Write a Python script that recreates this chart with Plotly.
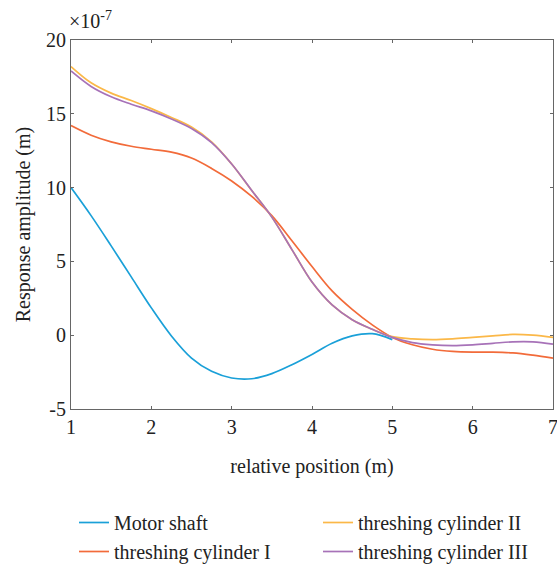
import plotly.graph_objects as go

x_motor = [1.0, 1.25, 1.5, 1.75, 2.0, 2.25, 2.5, 2.75, 3.0, 3.25, 3.5, 3.75, 4.0, 4.25, 4.5, 4.75, 5.0]
y_motor = [10.0, 8.1, 6.05, 3.95, 1.85, -0.05, -1.55, -2.45, -2.9, -2.95, -2.6, -2.0, -1.3, -0.55, -0.05, 0.1, -0.3]

x_full = [1.0, 1.25, 1.5, 1.75, 2.0, 2.25, 2.5, 2.75, 3.0, 3.25, 3.5, 3.75, 4.0, 4.25, 4.5, 4.75,
          5.0, 5.25, 5.5, 5.75, 6.0, 6.25, 6.5, 6.75, 7.0]
y_cyl1 = [14.2, 13.55, 13.1, 12.8, 12.6, 12.4, 12.0, 11.3, 10.45, 9.4, 8.1, 6.4, 4.65, 3.0, 1.75, 0.7,
          -0.15, -0.65, -0.95, -1.1, -1.15, -1.15, -1.2, -1.35, -1.55]
y_cyl2 = [18.2, 17.1, 16.4, 15.9, 15.35, 14.75, 14.1, 13.1, 11.6, 9.8, 8.0, 5.8, 3.6, 2.05, 1.05, 0.4,
          -0.1, -0.25, -0.3, -0.25, -0.15, -0.05, 0.05, 0.0, -0.15]
y_cyl3 = [17.9, 16.85, 16.15, 15.65, 15.2, 14.65, 14.0, 13.05, 11.6, 9.8, 8.0, 5.8, 3.6, 2.05, 1.05, 0.4,
          -0.15, -0.5, -0.65, -0.7, -0.65, -0.55, -0.45, -0.45, -0.6]

x_ticks = [1, 2, 3, 4, 5, 6, 7]
y_ticks = [-5, 0, 5, 10, 15, 20]
y_ticklabels = ["-5", "0", "5", "10", "15", "20"]

names = ["Motor shaft", "threshing cylinder I", "threshing cylinder II", "threshing cylinder III"]
colors = ["#1aa0d8", "#f26b3a", "#fbb848", "#a772b8"]

FONT = "Liberation Serif"
FS = 20

fig = go.Figure()
fig.add_trace(go.Scatter(x=x_motor, y=y_motor, mode="lines", name=names[0],
                         line=dict(color=colors[0], width=1.7, shape="spline", smoothing=1.0), legend="legend"))
fig.add_trace(go.Scatter(x=x_full, y=y_cyl1, mode="lines", name=names[1],
                         line=dict(color=colors[1], width=1.7, shape="spline", smoothing=1.0), legend="legend"))
fig.add_trace(go.Scatter(x=x_full, y=y_cyl2, mode="lines", name=names[2],
                         line=dict(color=colors[2], width=1.7, shape="spline", smoothing=1.0), legend="legend2"))
fig.add_trace(go.Scatter(x=x_full, y=y_cyl3, mode="lines", name=names[3],
                         line=dict(color=colors[3], width=1.7, shape="spline", smoothing=1.0), legend="legend2"))

axis_common = dict(showline=True, linecolor="#666666", linewidth=1, mirror="allticks",
                   ticks="inside", ticklen=3, tickcolor="#666666", showgrid=False, zeroline=False,
                   tickfont=dict(family=FONT, size=FS, color="#222"), automargin=False,
                   ticklabeloverflow="allow")

fig.update_xaxes(range=[1, 7], tickvals=x_ticks,
                 title=dict(text="relative position (m)", font=dict(family=FONT, size=FS, color="#222"), standoff=21),
                 **axis_common)
fig.update_yaxes(range=[-5, 20], tickvals=y_ticks, ticktext=y_ticklabels,
                 title=dict(text="Response amplitude (m)", font=dict(family=FONT, size=FS, color="#222"), standoff=10),
                 **axis_common)

# plot area: x 71..553 px, y 40..409 px
def px_x(p):
    return (p - 71) / 482

def px_y(p):
    return (409 - p) / 369

legend_common = dict(font=dict(family=FONT, size=FS, color="#222"), bgcolor="rgba(0,0,0,0)",
                     orientation="v", xanchor="left", yanchor="top", xref="paper", yref="paper",
                     tracegroupgap=0, itemwidth=30)
fig.update_layout(
    width=557, height=571,
    margin=dict(l=71, r=4, t=40, b=162, autoexpand=False),
    plot_bgcolor="white", paper_bgcolor="white",
    legend=dict(x=px_x(74), y=px_y(503), **legend_common),
    legend2=dict(x=px_x(318), y=px_y(503), **legend_common),
    annotations=[dict(text="×10<sup>-7</sup>", xref="paper", yref="paper", x=0, y=1,
                      xanchor="left", yanchor="bottom", yshift=6, xshift=-4,
                      showarrow=False, font=dict(family=FONT, size=FS, color="#222"))],
)

fig.write_html("out.html")
